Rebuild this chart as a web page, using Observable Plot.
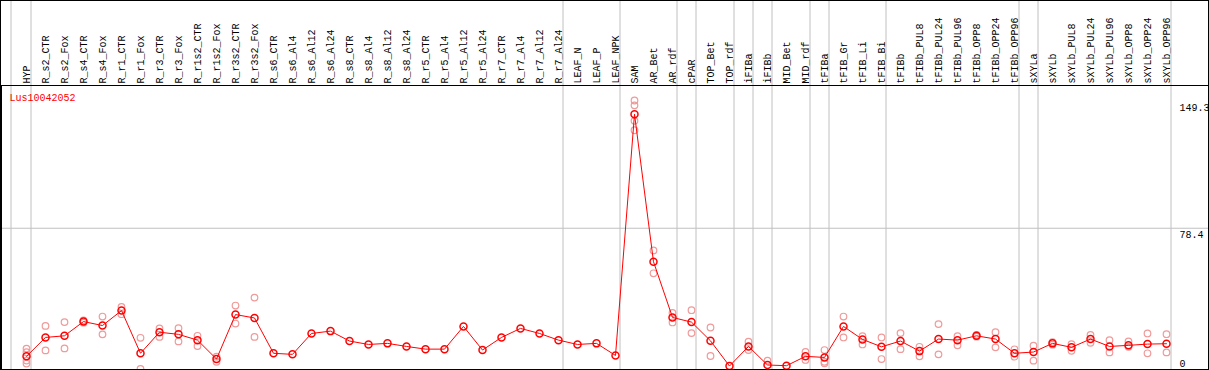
<!DOCTYPE html>
<html>
<head>
<meta charset="utf-8">
<script src="https://cdn.jsdelivr.net/npm/d3@7"></script>
<script src="https://cdn.jsdelivr.net/npm/@observablehq/plot@0.6"></script>
<style>
  html, body { margin: 0; padding: 0; background: #fff; }
  #chart { position: absolute; left: 0; top: 0; width: 1209px; height: 370px; box-sizing: border-box; border: 1px solid #000; overflow: hidden; }
  #chart svg { display: block; }
</style>
</head>
<body>
<div id="chart"></div>
<script>
const geneName = "Lus10042052";

const categories = [
  "HYP", "R_s2_CTR", "R_s2_Fox", "R_s4_CTR", "R_s4_Fox", "R_r1_CTR", "R_r1_Fox",
  "R_r3_CTR", "R_r3_Fox", "R_r1s2_CTR", "R_r1s2_Fox", "R_r3s2_CTR", "R_r3s2_Fox",
  "R_s6_CTR", "R_s6_Al4", "R_s6_Al12", "R_s6_Al24", "R_s8_CTR", "R_s8_Al4", "R_s8_Al12",
  "R_s8_Al24", "R_r5_CTR", "R_r5_Al4", "R_r5_Al12", "R_r5_Al24", "R_r7_CTR", "R_r7_Al4",
  "R_r7_Al12", "R_r7_Al24", "LEAF_N", "LEAF_P", "LEAF_NPK", "SAM", "AR_Bet", "AR_rdf",
  "cPAR", "TOP_Bet", "TOP_rdf", "iFIBa", "iFIBb", "MID_Bet", "MID_rdf", "tFIBa",
  "tFIB_Gr", "tFIB_Li", "tFIB_Bi", "tFIBb", "tFIBb_PUL8", "tFIBb_PUL24", "tFIBb_PUL96",
  "tFIBb_OPP8", "tFIBb_OPP24", "tFIBb_OPP96", "sXYLa", "sXYLb", "sXYLb_PUL8",
  "sXYLb_PUL24", "sXYLb_PUL96", "sXYLb_OPP8", "sXYLb_OPP24", "sXYLb_OPP96"
];

const means = [
  7.3, 17.8, 18.7, 26.6, 24.4, 32.7, 9.0,
  20.7, 19.5, 16.3, 5.8, 30.5, 28.6,
  9.0, 8.4, 20.0, 21.3, 15.8, 13.9, 14.5,
  12.8, 11.3, 11.3, 23.9, 10.8, 17.8, 22.8,
  20.0, 16.3, 13.9, 14.5, 7.8, 141.7, 59.8, 28.9,
  26.3, 15.9, 1.9, 12.8, 2.5, 2.1, 7.3, 6.7,
  23.9, 16.7, 12.6, 15.8, 10.2, 16.9, 16.3,
  18.7, 16.9, 9.0, 9.7, 14.5, 12.3,
  16.9, 12.8, 13.4, 14.1, 14.3
];

const replicates = [
  [11.6, 9.6, 5.0, 3.3], [24.2, 10.6], [26.3, 11.7], [27.2, 26.0], [29.4, 19.5], [34.7, 30.7], [17.6, 0.3],
  [22.8, 18.1], [22.9, 15.6], [18.7, 13.0], [7.1, 4.3], [35.5, 25.5], [39.9, 18.1],
  [], [], [], [], [], [], [],
  [], [], [], [], [], [], [],
  [], [], [], [], [], [149.3, 146.6, 138.0, 132.8], [66.1, 53.4], [31.4, 26.1],
  [32.9, 20.2], [23.3, 7.5], [], [15.4, 10.8], [4.9], [], [9.8, 5.3], [10.8, 4.3, 3.4],
  [29.4, 17.8], [18.5, 13.9], [17.8, 5.8], [20.2, 11.3], [12.6, 7.3], [25.2, 8.4], [18.5, 13.4],
  [19.2, 18.2], [20.7, 12.3], [11.2, 7.1], [13.2, 4.9], [15.2, 13.8], [14.1, 10.4],
  [19.2, 14.8], [16.3, 9.5], [15.6, 12.6], [20.0, 9.0], [19.6, 9.5]
];

// categories after which a group separator line is drawn
const groupEnds = ["HYP", "R_r7_Al24", "LEAF_NPK", "AR_rdf", "cPAR", "TOP_rdf", "iFIBa",
  "iFIBb", "MID_rdf", "tFIBa", "tFIB_Bi", "tFIBb_OPP96", "sXYLa", "sXYLb_OPP96"];
const groupStart = ["HYP"];

const yTicksTop = [149.3, 78.4];
const yTickZero = [0];
const gridY = [78.4];

const meanData = categories.map((c, i) => ({cat: c, value: means[i]}));
const repData = categories.flatMap((c, i) => replicates[i].map(v => ({cat: c, value: v})));

const plot = Plot.plot({
  width: 1207,
  height: 368,
  marginTop: 84,
  marginBottom: 0,
  marginLeft: 0,
  marginRight: 0,
  insetLeft: 25,
  insetRight: 42,
  insetTop: 15,
  style: {fontFamily: "'Liberation Mono', 'DejaVu Sans Mono', monospace", fontSize: "10px", background: "#fff", color: "#000", overflow: "visible"},
  x: {type: "point", domain: categories, padding: 0, axis: "top", tickRotate: -90, tickSize: 0, tickPadding: 2, label: null},
  y: {domain: [0, 149.3], axis: null},
  marks: [
    Plot.ruleY(gridY, {stroke: "#c0c0c0", strokeWidth: 1}),
    Plot.ruleX(groupEnds, {x: d => d, dx: 4.5, stroke: "#c0c0c0", strokeWidth: 1, insetTop: -84}),
    Plot.ruleX(groupStart, {x: d => d, dx: -15.5, stroke: "#c0c0c0", strokeWidth: 1, insetTop: -84}),
    Plot.frame({stroke: "#000", strokeWidth: 1}),
    Plot.dot(repData, {x: "cat", y: "value", r: 3.3, stroke: "#f09a9a", strokeWidth: 1.2, fill: "none"}),
    Plot.line(meanData, {x: "cat", y: "value", stroke: "#ff0000", strokeWidth: 1}),
    Plot.dot(meanData, {x: "cat", y: "value", r: 3.5, stroke: "#ff0000", strokeWidth: 1.5, fill: "none"}),
    Plot.text([geneName], {frameAnchor: "top-left", dx: 8, dy: 8, text: d => d, textAnchor: "start", lineAnchor: "top", fill: "#ff0000"}),
    Plot.text(yTicksTop, {y: d => d, frameAnchor: "right", dx: -29, dy: 3, text: d => String(d), textAnchor: "start", lineAnchor: "top", fill: "#000"}),
    Plot.text(yTickZero, {y: d => d, frameAnchor: "right", dx: -29, dy: -3, text: d => String(d), textAnchor: "start", lineAnchor: "bottom", fill: "#000"})
  ]
});
document.getElementById("chart").appendChild(plot);
</script>
</body>
</html>
